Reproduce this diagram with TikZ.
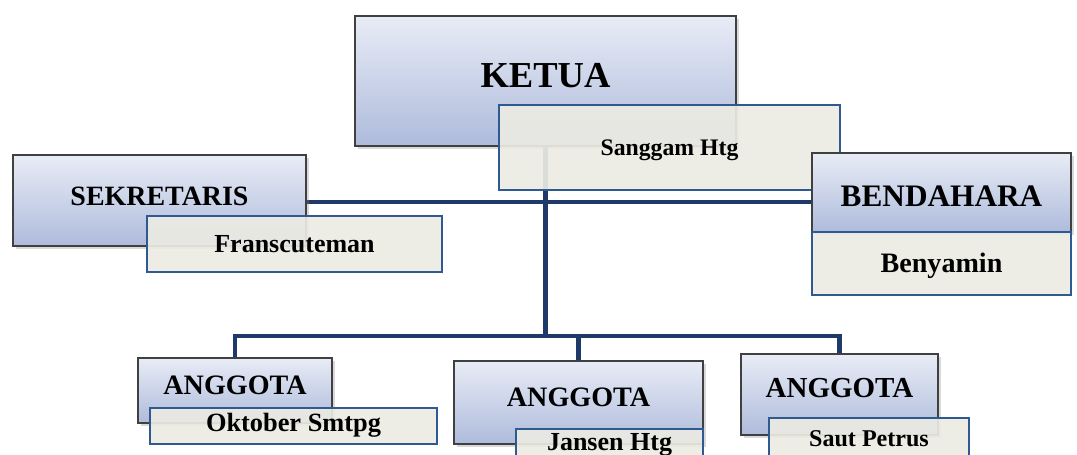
\documentclass[tikz,border=0pt]{standalone}
\usepackage{fontspec}
\setmainfont{Liberation Serif}
\usetikzlibrary{shadows,backgrounds}
\definecolor{garis}{HTML}{1F3A68}
\definecolor{atas}{HTML}{E8ECF6}
\definecolor{bawah}{HTML}{AEBBDB}
\definecolor{krem}{HTML}{EBEBE3}
\definecolor{tepi}{HTML}{2E5A91}
\def\ukuran#1{\fontsize{#1}{#1}\selectfont\bfseries}

\tikzset{
	jabatan/.style={draw=black!75, line width=0.6pt, top color=atas, bottom color=bawah, inner sep=0pt,
		drop shadow={opacity=0.3, shadow xshift=0.06cm, shadow yshift=-0.06cm}},
	nama/.style={draw=tepi, line width=0.8pt, fill=krem, fill opacity=0.92, text opacity=1, inner sep=0pt},
	tinggi/.style={text height=#1, text depth=0pt},
	hubung/.style={garis, line width=2.7pt}
}

\begin{document}
\begin{tikzpicture}
		%%%%% START %%%%%
		\useasboundingbox (0, 0) rectangle (21.54, -9.1);
		
		\node[jabatan, tinggi=0.259cm, minimum width=7.62cm, minimum height=2.6cm] (ketua) at (10.91, -1.62) {\ukuran{20.8}KETUA};
		\node[nama, tinggi=0.311cm, minimum width=6.82cm, minimum height=1.7cm] (sanggam) at (13.39, -2.95) {\ukuran{13.5}Sanggam Htg};
		
		\node[jabatan, tinggi=0.186cm, minimum width=5.86cm, minimum height=1.82cm] (sekretaris) at (3.19, -4.01) {\ukuran{15.9}SEKRETARIS};
		\node[nama, tinggi=0.341cm, minimum width=5.9cm, minimum height=1.12cm] (franscuteman) at (5.89, -4.88) {\ukuran{14.8}Franscuteman};
		
		\node[jabatan, tinggi=0.55cm, minimum width=5.18cm, minimum height=1.58cm] (bendahara) at (18.83, -3.85) {\ukuran{17.8}BENDAHARA};
		\node[nama, tinggi=0.368cm, minimum width=5.18cm, minimum height=1.26cm] (benyamin) at (18.83, -5.27) {\ukuran{16}Benyamin};
		
		\node[jabatan, tinggi=0.168cm, minimum width=3.88cm, minimum height=1.3cm] (anggotaA) at (4.7, -7.81) {\ukuran{16}ANGGOTA};
		\node[nama, tinggi=0.233cm, minimum width=5.74cm, minimum height=0.72cm] (oktober) at (5.87, -8.52) {\ukuran{15}Oktober Smtpg};
		
		\node[jabatan, tinggi=0.168cm, minimum width=4.98cm, minimum height=1.66cm] (anggotaB) at (11.57, -8.05) {\ukuran{16}ANGGOTA};
		\node[nama, tinggi=0.061cm, minimum width=3.74cm, minimum height=0.8cm] (jansen) at (12.19, -8.98) {\ukuran{14.8}Jansen Htg};
		
		\node[jabatan, tinggi=0.128cm, minimum width=3.94cm, minimum height=1.62cm] (anggotaC) at (16.79, -7.89) {\ukuran{16.5}ANGGOTA};
		\node[nama, tinggi=0.087cm, minimum width=4cm, minimum height=1.04cm] (saut) at (17.38, -8.88) {\ukuran{13.7}Saut Petrus};
		
		\coordinate (cabang) at (ketua.south |- 0, -6.72);
		
		\begin{pgfonlayer}{background}
		\draw[hubung] (sekretaris.east |- 0, -4.04) -- (bendahara.west |- 0, -4.04);
		\draw[hubung] (ketua.south) -- (cabang);
		\draw[hubung] (cabang) -| (anggotaA.north);
		\draw[hubung] (cabang) -| (anggotaB.north);
		\draw[hubung] (cabang) -| (anggotaC.north);
		\end{pgfonlayer}
		
		%%%%% END %%%%%
	\end{tikzpicture}
\end{document}
